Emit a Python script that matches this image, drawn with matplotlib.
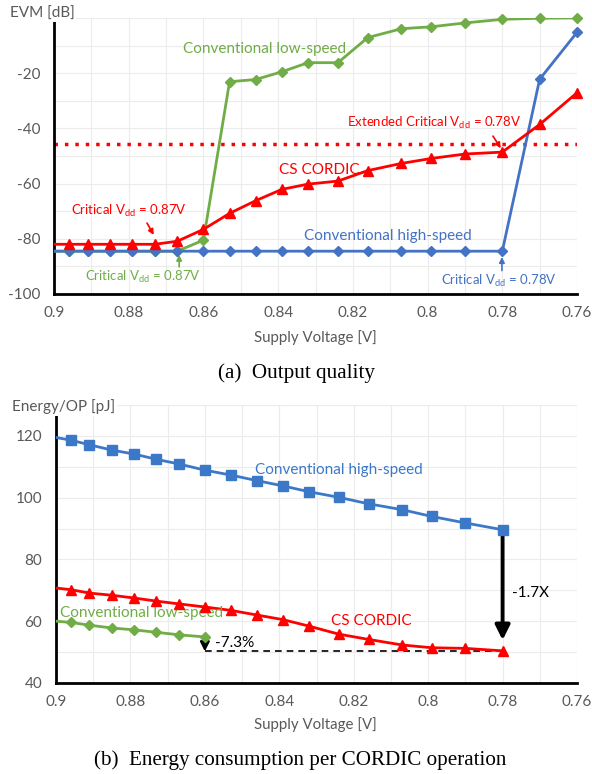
import numpy as np
import matplotlib
matplotlib.use("Agg")
import matplotlib.pyplot as plt

plt.rcParams['font.family'] = ['Lato', 'DejaVu Sans']
plt.rcParams['mathtext.fontset'] = 'custom'
plt.rcParams['mathtext.rm'] = 'Lato'
plt.rcParams['axes.unicode_minus'] = False

# supply voltage sweep (first point lies just outside the axis, line only)
vdd = [0.902, 0.896, 0.891, 0.885, 0.879, 0.873, 0.867, 0.860, 0.853, 0.846,
       0.839, 0.832, 0.824, 0.816, 0.807, 0.799, 0.790, 0.780, 0.770, 0.760]

# (a) EVM [dB]
evm_high = [-84.5, -84.5, -84.5, -84.5, -84.5, -84.5, -84.5, -84.5, -84.5, -84.5,
            -84.5, -84.5, -84.5, -84.5, -84.5, -84.5, -84.5, -84.5, -22.2, -5.2]
evm_low = [-84.5, -84.5, -84.5, -84.5, -84.5, -84.5, -84.5, -80.5, -23.1, -22.3,
           -19.5, -16.2, -16.2, -7.1, -3.9, -3.2, -1.8, -0.5, -0.1, 0.0]
evm_cs = [-82.0, -82.0, -82.0, -82.0, -82.0, -82.0, -80.9, -76.6, -70.8, -66.2,
          -62.1, -60.2, -59.1, -55.3, -52.7, -50.9, -49.3, -48.6, -38.6, -27.1]
evm_limit = -45.7

# (b) Energy/OP [pJ]
en_high = [119.9, 118.6, 117.1, 115.4, 114.1, 112.4, 110.9, 108.9, 107.3, 105.5,
           103.8, 101.9, 100.1, 98.0, 96.1, 93.9, 91.8, 89.6]
en_cs = [71.0, 70.2, 69.1, 68.4, 67.5, 66.5, 65.6, 64.6, 63.5, 62.0,
         60.5, 58.4, 55.8, 54.1, 52.3, 51.4, 51.2, 50.4]
en_low = [60.2, 59.6, 58.7, 57.8, 57.2, 56.4, 55.6, 54.9]

xtick_vals = [0.9, 0.88, 0.86, 0.84, 0.82, 0.8, 0.78, 0.76]
xtick_labels = ['0.9', '0.88', '0.86', '0.84', '0.82', '0.8', '0.78', '0.76']

GREEN = '#70AD47'
BLUE = '#4472C4'
RED = '#FF0000'
GRAY = '#595959'

fig = plt.figure(figsize=(5.92, 7.74), dpi=100)
ax1 = fig.add_axes([0.0912, 0.6202, 0.8835, 0.3566])
ax2 = fig.add_axes([0.0946, 0.1176, 0.8801, 0.3592])


def style(ax, ylim, yticks):
    ax.set_xlim(0.9, 0.76)
    ax.set_ylim(*ylim)
    ax.set_xticks(xtick_vals)
    ax.set_xticklabels(xtick_labels)
    ax.set_xticks(np.arange(0.76, 0.905, 0.01), minor=True)
    ax.set_yticks(yticks)
    ax.set_yticks(np.arange(ylim[0], ylim[1] + 1, 10), minor=True)
    ax.grid(which='both', color='#ececec', lw=0.8)
    ax.set_axisbelow(True)
    for s in ['top', 'right']:
        ax.spines[s].set_visible(False)
    for s in ['left', 'bottom']:
        ax.spines[s].set_linewidth(2)
        ax.spines[s].set_color('black')
    ax.tick_params(which='both', length=0, colors=GRAY, labelsize=11)
    ax.tick_params(axis='x', pad=9)
    ax.tick_params(axis='y', pad=10)


def series(ax, x, y, color, marker, ms):
    ax.plot(x, y, color=color, lw=2, zorder=3)
    ax.plot(x[1:], y[1:], color=color, ls='none', marker=marker, ms=ms,
            clip_on=False, zorder=4)


def arrow(ax, start, end, color, lw=1.2, scale=8):
    ax.annotate('', xy=end, xytext=start,
                arrowprops=dict(arrowstyle='-|>', color=color, lw=lw,
                                shrinkA=0, shrinkB=0, mutation_scale=scale))


# ---- (a) output quality
style(ax1, (-100, 0), [-100, -80, -60, -40, -20])
ax1.axhline(evm_limit, color=RED, ls=(0, (1, 2)), lw=2.5, zorder=2)
series(ax1, vdd, evm_low, GREEN, 'D', 5.5)
series(ax1, vdd, evm_high, BLUE, 'D', 5.5)
series(ax1, vdd, evm_cs, RED, '^', 7)

ax1.text(0.8437, -11.3, 'Conventional low-speed', color=GREEN, fontsize=11,
         ha='center', va='center')
ax1.text(0.8291, -55.1, 'CS CORDIC', color=RED, fontsize=11,
         ha='center', va='center')
ax1.text(0.8107, -79.0, 'Conventional high-speed', color=BLUE, fontsize=11,
         ha='center', va='center')
ax1.text(0.7982, -38.1, 'Extended Critical V$_{\\mathregular{dd}}$ = 0.78V',
         color=RED, fontsize=9.5, ha='center', va='center')
ax1.text(0.8801, -70.0, 'Critical V$_{\\mathregular{dd}}$ = 0.87V',
         color=RED, fontsize=9.5, ha='center', va='center')
ax1.text(0.8762, -93.8, 'Critical V$_{\\mathregular{dd}}$ = 0.87V',
         color=GREEN, fontsize=9.5, ha='center', va='center')
ax1.text(0.7808, -95.3, 'Critical V$_{\\mathregular{dd}}$ = 0.78V',
         color=BLUE, fontsize=9.5, ha='center', va='center')
arrow(ax1, (0.7825, -42.8), (0.7804, -47.2), RED)
arrow(ax1, (0.8751, -74.3), (0.8733, -78.6), RED)
arrow(ax1, (0.8665, -90.2), (0.8665, -85.8), GREEN)
arrow(ax1, (0.7801, -91.5), (0.7801, -86.6), BLUE)

fig.text(10 / 592, 1 - 14 / 774, 'EVM [dB]', color=GRAY, fontsize=11,
         ha='left', va='center',
         bbox=dict(fc='white', ec='none', pad=1))
fig.text(315 / 592, 1 - 338 / 774, 'Supply Voltage [V]', color=GRAY, fontsize=10.8,
         ha='center', va='center')
fig.text(0.5, 1 - 373 / 774, '(a)  Output quality', family='Liberation Serif',
         fontsize=15.2, ha='center', va='center')

# ---- (b) energy per operation
style(ax2, (40, 130), [40, 60, 80, 100, 120])
n = len(en_high)
series(ax2, vdd[:len(en_low)], en_low, GREEN, 'D', 5.5)
series(ax2, vdd[:n], en_high, '#3C78C8', 's', 7.5)
series(ax2, vdd[:n], en_cs, RED, '^', 7)

ax2.plot([vdd[7], vdd[n - 1]], [en_cs[-1], en_cs[-1]], color='black', lw=1.2,
         ls=(0, (4, 3)), zorder=2)
arrow(ax2, (vdd[7], en_low[-1] - 0.3), (vdd[7], en_cs[-1] - 0.2), 'black',
      lw=1.6, scale=14)
arrow(ax2, (vdd[n - 1], en_high[-1] - 1.5), (vdd[n - 1], 53.9), 'black',
      lw=2.8, scale=22)
ax2.text(0.8573, 52.9, '-7.3%', color='black', fontsize=11, ha='left', va='center')
ax2.text(0.7775, 69.0, '-1.7X', color='black', fontsize=11, ha='left', va='center')

ax2.text(0.8239, 109.0, 'Conventional high-speed', color='#3C78C8', fontsize=11,
         ha='center', va='center')
ax2.text(0.8153, 60.0, 'CS CORDIC', color=RED, fontsize=11,
         ha='center', va='center')
ax2.text(0.8769, 62.6, 'Conventional low-speed', color=GREEN, fontsize=11,
         ha='center', va='center')

fig.text(12 / 592, 1 - 407 / 774, 'Energy/OP [pJ]', color=GRAY, fontsize=11,
         ha='left', va='center',
         bbox=dict(fc='white', ec='none', pad=1))
fig.text(315 / 592, 1 - 725 / 774, 'Supply Voltage [V]', color=GRAY, fontsize=10.8,
         ha='center', va='center')
fig.text(300 / 592, 1 - 760 / 774, '(b)  Energy consumption per CORDIC operation',
         family='Liberation Serif', fontsize=15.2, ha='center', va='center')

fig.savefig('out.png', dpi=100)
